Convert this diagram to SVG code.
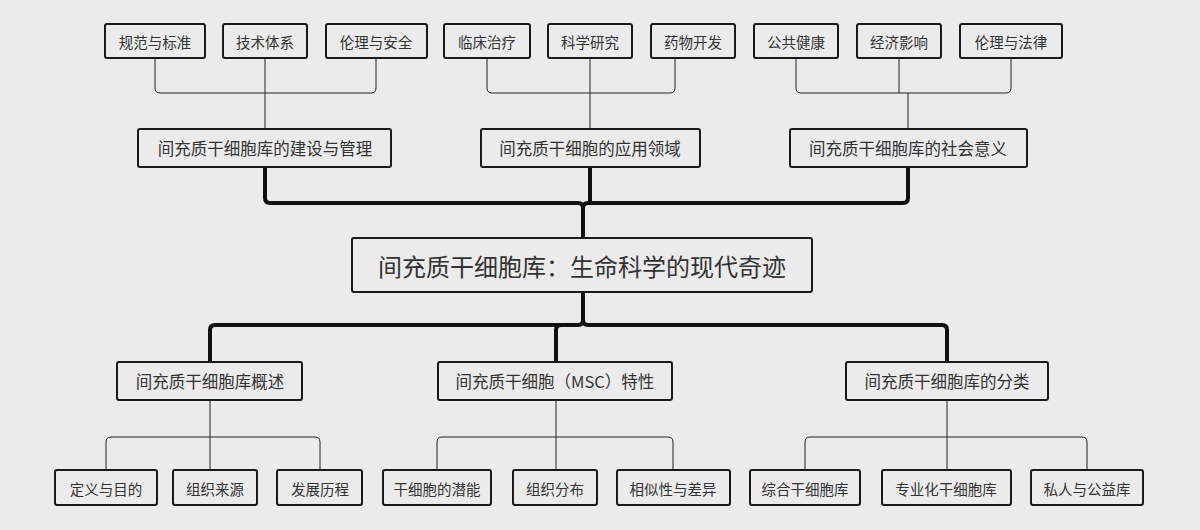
<svg xmlns="http://www.w3.org/2000/svg" width="1200" height="530" viewBox="0 0 1200 530">
<style>
.b{fill:#ebebeb;stroke:#1a1a1a;stroke-width:2}
.t{font-family:"Noto Sans CJK SC","Noto Sans",sans-serif;fill:#333;text-anchor:middle;dominant-baseline:central}
.s{font-size:14.5px}.m{font-size:16.5px}.r{font-size:24px}
.thin{fill:none;stroke:#222;stroke-width:1}
.thick{fill:none;stroke:#111;stroke-width:4;stroke-linejoin:round}
</style>
<rect width="1200" height="530" fill="#ebebeb"/>
<g id="connectors">
<path class="thin" d="M155 58V88q0 5 5 5H371q5 0 5-5V58M265 58V129"/>
<path class="thin" d="M487 58V88q0 5 5 5H670q5 0 5-5V58M590 58V129"/>
<path class="thin" d="M796 58V88q0 5 5 5H1006q5 0 5-5V58M899 58V93M908 93V129"/>
<path class="thick" d="M265 167V198q0 5 5 5H578q5 0 5 5V238M590 167V203M908 167V198q0 5-5 5H588q-5 0-5 5"/>
<path class="thick" d="M583 292V325M583 320q0 5-5 5H215q-5 0-5 5V362M583 320q0 5-5 5H561q-5 0-5 5V362M583 320q0 5 5 5H942q5 0 5 5V362"/>
<path class="thin" d="M106 470V442q0-5 5-5H315q5 0 5 5V470M210 400V470"/>
<path class="thin" d="M437 470V442q0-5 5-5H668q5 0 5 5V470M556 400V470"/>
<path class="thin" d="M805 470V442q0-5 5-5H1082q5 0 5 5V470M947 400V470"/>
</g>
<g id="n1"><rect class="b" x="105" y="24" width="100" height="34" rx="2"/><text class="t s" x="155" y="41">规范与标准</text></g>
<g id="n2"><rect class="b" x="223" y="24" width="84" height="34" rx="2"/><text class="t s" x="265" y="41">技术体系</text></g>
<g id="n3"><rect class="b" x="326" y="24" width="101" height="34" rx="2"/><text class="t s" x="376" y="41">伦理与安全</text></g>
<g id="n4"><rect class="b" x="444" y="24" width="86" height="34" rx="2"/><text class="t s" x="487" y="41">临床治疗</text></g>
<g id="n5"><rect class="b" x="548" y="24" width="84" height="34" rx="2"/><text class="t s" x="590" y="41">科学研究</text></g>
<g id="n6"><rect class="b" x="651" y="24" width="84" height="34" rx="2"/><text class="t s" x="693" y="41">药物开发</text></g>
<g id="n7"><rect class="b" x="754" y="24" width="84" height="34" rx="2"/><text class="t s" x="796" y="41">公共健康</text></g>
<g id="n8"><rect class="b" x="857" y="24" width="84" height="34" rx="2"/><text class="t s" x="899" y="41">经济影响</text></g>
<g id="n9"><rect class="b" x="960" y="24" width="102" height="34" rx="2"/><text class="t s" x="1011" y="41">伦理与法律</text></g>
<g id="m1"><rect class="b" x="138" y="129" width="253" height="38" rx="2"/><text class="t m" x="265" y="148">间充质干细胞库的建设与管理</text></g>
<g id="m2"><rect class="b" x="481" y="129" width="219" height="38" rx="2"/><text class="t m" x="590" y="148">间充质干细胞的应用领域</text></g>
<g id="m3"><rect class="b" x="790" y="129" width="237" height="38" rx="2"/><text class="t m" x="908" y="148">间充质干细胞库的社会意义</text></g>
<g id="root"><rect class="b" x="352" y="238" width="460" height="54" rx="2"/><text class="t r" x="582" y="265">间充质干细胞库：生命科学的现代奇迹</text></g>
<g id="c1"><rect class="b" x="117" y="362" width="185" height="38" rx="2"/><text class="t m" x="210" y="381">间充质干细胞库概述</text></g>
<g id="c2"><rect class="b" x="438" y="362" width="234" height="38" rx="2"/><text class="t m" x="555" y="381">间充质干细胞（MSC）特性</text></g>
<g id="c3"><rect class="b" x="846" y="362" width="202" height="38" rx="2"/><text class="t m" x="947" y="381">间充质干细胞库的分类</text></g>
<g id="l1"><rect class="b" x="55" y="470" width="102" height="35" rx="2"/><text class="t s" x="106" y="488">定义与目的</text></g>
<g id="l2"><rect class="b" x="173" y="470" width="84" height="35" rx="2"/><text class="t s" x="215" y="488">组织来源</text></g>
<g id="l3"><rect class="b" x="277" y="470" width="85" height="35" rx="2"/><text class="t s" x="320" y="488">发展历程</text></g>
<g id="l4"><rect class="b" x="383" y="470" width="108" height="35" rx="2"/><text class="t s" x="437" y="488">干细胞的潜能</text></g>
<g id="l5"><rect class="b" x="513" y="470" width="84" height="35" rx="2"/><text class="t s" x="555" y="488">组织分布</text></g>
<g id="l6"><rect class="b" x="617" y="470" width="113" height="35" rx="2"/><text class="t s" x="673" y="488">相似性与差异</text></g>
<g id="l7"><rect class="b" x="750" y="470" width="110" height="35" rx="2"/><text class="t s" x="805" y="488">综合干细胞库</text></g>
<g id="l8"><rect class="b" x="882" y="470" width="129" height="35" rx="2"/><text class="t s" x="946" y="488">专业化干细胞库</text></g>
<g id="l9"><rect class="b" x="1031" y="470" width="112" height="35" rx="2"/><text class="t s" x="1087" y="488">私人与公益库</text></g>
</svg>
